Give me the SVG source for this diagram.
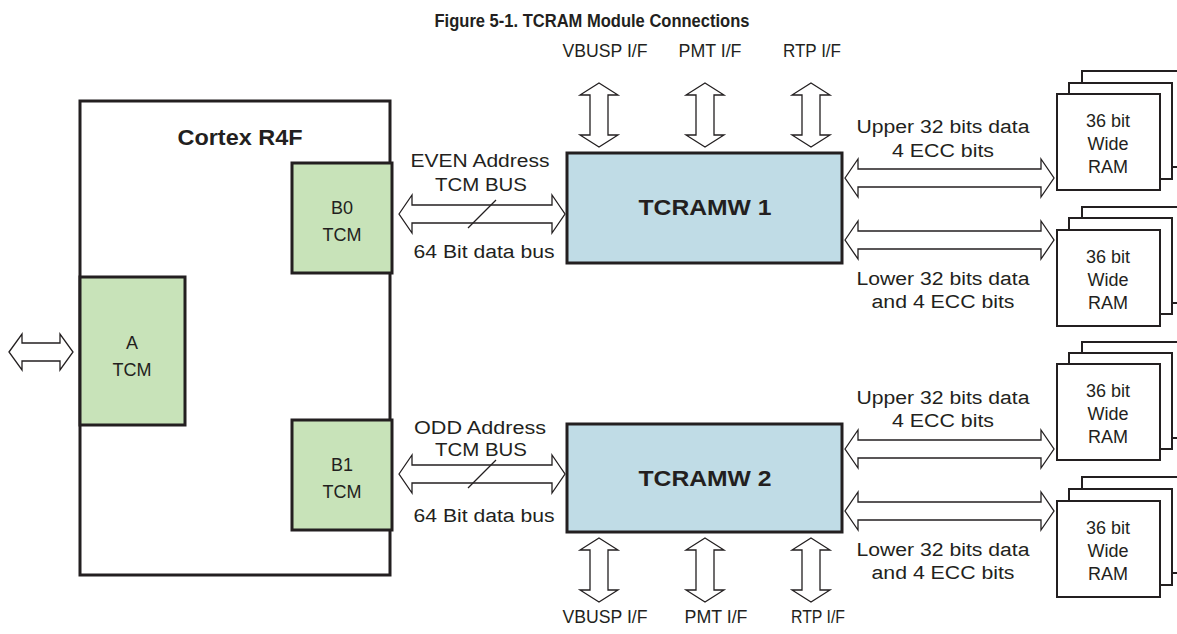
<svg xmlns="http://www.w3.org/2000/svg" width="1177" height="634" viewBox="0 0 1177 634">
<style>
text{font-family:"Liberation Sans",Arial,sans-serif;fill:#231f20;text-anchor:middle}
.t{font-size:18px}
.b{font-weight:bold}
.box{stroke:#231f20;stroke-width:3}
.ram{fill:#fff;stroke:#231f20;stroke-width:2}
.arr{fill:#fff;stroke:#231f20;stroke-width:1.3;stroke-linejoin:miter}
.ln{stroke:#231f20;stroke-width:1.3;fill:none}
</style>
<rect width="1177" height="634" fill="#fff"/>
<text class="b" x="592" y="27" font-size="18" textLength="315" lengthAdjust="spacingAndGlyphs">Figure 5-1. TCRAM Module Connections</text>

<g id="cortex">
<rect class="box" x="80" y="101" width="310" height="474" fill="#fff"/>
<text class="b" x="240" y="145" font-size="22" textLength="125" lengthAdjust="spacingAndGlyphs">Cortex R4F</text>
</g>
<g id="a_tcm">
<rect class="box" x="80" y="277" width="105" height="148" fill="#c8e3b9"/>
<text class="t" x="132" y="349">A</text>
<text class="t" x="132" y="376">TCM</text>
</g>
<g id="b0_tcm">
<rect class="box" x="292" y="163" width="100" height="110" fill="#c8e3b9"/>
<text class="t" x="342" y="214">B0</text>
<text class="t" x="342" y="241">TCM</text>
</g>
<g id="b1_tcm">
<rect class="box" x="292" y="420" width="100" height="110" fill="#c8e3b9"/>
<text class="t" x="342" y="471">B1</text>
<text class="t" x="342" y="498">TCM</text>
</g>
<g id="tcramw1">
<rect class="box" x="567" y="153" width="275" height="110" fill="#c0dce6"/>
<text class="b" x="705" y="215" font-size="22" textLength="133" lengthAdjust="spacingAndGlyphs">TCRAMW 1</text>
</g>
<g id="tcramw2">
<rect class="box" x="567" y="424" width="275" height="108" fill="#c0dce6"/>
<text class="b" x="705" y="486" font-size="22" textLength="133" lengthAdjust="spacingAndGlyphs">TCRAMW 2</text>
</g>

<g id="ram1">
<rect class="ram" x="1082" y="71" width="103" height="96"/>
<rect class="ram" x="1069" y="83" width="103" height="96"/>
<rect class="ram" x="1057" y="94" width="103" height="96"/>
<text class="t" x="1108" y="127" font-size="19">36 bit</text>
<text class="t" x="1108" y="150" font-size="19">Wide</text>
<text class="t" x="1108" y="173" font-size="19">RAM</text>
</g>
<g id="ram2">
<rect class="ram" x="1082" y="207" width="103" height="96"/>
<rect class="ram" x="1069" y="218" width="103" height="96"/>
<rect class="ram" x="1057" y="230" width="103" height="96"/>
<text class="t" x="1108" y="263" font-size="19">36 bit</text>
<text class="t" x="1108" y="286" font-size="19">Wide</text>
<text class="t" x="1108" y="309" font-size="19">RAM</text>
</g>
<g id="ram3">
<rect class="ram" x="1082" y="342" width="103" height="96"/>
<rect class="ram" x="1069" y="353" width="103" height="96"/>
<rect class="ram" x="1057" y="364" width="103" height="96"/>
<text class="t" x="1108" y="397" font-size="19">36 bit</text>
<text class="t" x="1108" y="420" font-size="19">Wide</text>
<text class="t" x="1108" y="443" font-size="19">RAM</text>
</g>
<g id="ram4">
<rect class="ram" x="1082" y="477" width="103" height="96"/>
<rect class="ram" x="1069" y="489" width="103" height="96"/>
<rect class="ram" x="1057" y="501" width="103" height="96"/>
<text class="t" x="1108" y="534" font-size="19">36 bit</text>
<text class="t" x="1108" y="557" font-size="19">Wide</text>
<text class="t" x="1108" y="580" font-size="19">RAM</text>
</g>

<g id="connectors">
<path class="arr" d="M9,352 L22,334 L22,343 L60,343 L60,334 L73,352 L60,370 L60,361 L22,361 L22,370 Z"/>
<path class="arr" d="M399,214 L412,195 L412,205 L552,205 L552,195 L565,214 L552,233 L552,223 L412,223 L412,233 Z"/>
<line class="ln" x1="496" y1="200" x2="468" y2="228"/>
<path class="arr" d="M399,474 L412,455 L412,465 L552,465 L552,455 L565,474 L552,493 L552,483 L412,483 L412,493 Z"/>
<line class="ln" x1="496" y1="460" x2="468" y2="488"/>
<path class="arr" d="M845,178 L858,159 L858,169 L1041,169 L1041,159 L1054,178 L1041,197 L1041,187 L858,187 L858,197 Z"/>
<path class="arr" d="M845,240 L858,221 L858,231 L1041,231 L1041,221 L1054,240 L1041,259 L1041,249 L858,249 L858,259 Z"/>
<path class="arr" d="M845,449 L858,430 L858,440 L1041,440 L1041,430 L1054,449 L1041,468 L1041,458 L858,458 L858,468 Z"/>
<path class="arr" d="M845,511 L858,492 L858,502 L1041,502 L1041,492 L1054,511 L1041,530 L1041,520 L858,520 L858,530 Z"/>
<path class="arr" d="M599,83 L618,95 L608,95 L608,135 L618,135 L599,147 L580,135 L590,135 L590,95 L580,95 Z"/>
<path class="arr" d="M705,83 L724,95 L714,95 L714,135 L724,135 L705,147 L686,135 L696,135 L696,95 L686,95 Z"/>
<path class="arr" d="M811,83 L830,95 L820,95 L820,135 L830,135 L811,147 L792,135 L802,135 L802,95 L792,95 Z"/>
<path class="arr" d="M599,538 L618,550 L608,550 L608,590 L618,590 L599,602 L580,590 L590,590 L590,550 L580,550 Z"/>
<path class="arr" d="M705,538 L724,550 L714,550 L714,590 L724,590 L705,602 L686,590 L696,590 L696,550 L686,550 Z"/>
<path class="arr" d="M811,538 L830,550 L820,550 L820,590 L830,590 L811,602 L792,590 L802,590 L802,550 L792,550 Z"/>
</g>

<g id="labels">
<text class="t" x="605" y="57" textLength="85" lengthAdjust="spacingAndGlyphs">VBUSP I/F</text>
<text class="t" x="710" y="57" textLength="63" lengthAdjust="spacingAndGlyphs">PMT I/F</text>
<text class="t" x="812" y="57" textLength="58" lengthAdjust="spacingAndGlyphs">RTP I/F</text>
<text class="t" x="605" y="623" textLength="85" lengthAdjust="spacingAndGlyphs">VBUSP I/F</text>
<text class="t" x="716" y="623" textLength="63" lengthAdjust="spacingAndGlyphs">PMT I/F</text>
<text class="t" x="818" y="623" textLength="54" lengthAdjust="spacingAndGlyphs">RTP I/F</text>

<text class="t" x="480" y="167" textLength="139" lengthAdjust="spacingAndGlyphs">EVEN Address</text>
<text class="t" x="481" y="191" textLength="92" lengthAdjust="spacingAndGlyphs">TCM BUS</text>
<text class="t" x="484" y="258" textLength="141" lengthAdjust="spacingAndGlyphs">64 Bit data bus</text>
<text class="t" x="480" y="434" textLength="132" lengthAdjust="spacingAndGlyphs">ODD Address</text>
<text class="t" x="481" y="456" textLength="92" lengthAdjust="spacingAndGlyphs">TCM BUS</text>
<text class="t" x="484" y="522" textLength="141" lengthAdjust="spacingAndGlyphs">64 Bit data bus</text>

<text class="t" x="943" y="133" textLength="173" lengthAdjust="spacingAndGlyphs">Upper 32 bits data</text>
<text class="t" x="943" y="157" textLength="102" lengthAdjust="spacingAndGlyphs">4 ECC bits</text>
<text class="t" x="943" y="285" textLength="173" lengthAdjust="spacingAndGlyphs">Lower 32 bits data</text>
<text class="t" x="943" y="308" textLength="143" lengthAdjust="spacingAndGlyphs">and 4 ECC bits</text>
<text class="t" x="943" y="404" textLength="173" lengthAdjust="spacingAndGlyphs">Upper 32 bits data</text>
<text class="t" x="943" y="427" textLength="102" lengthAdjust="spacingAndGlyphs">4 ECC bits</text>
<text class="t" x="943" y="556" textLength="173" lengthAdjust="spacingAndGlyphs">Lower 32 bits data</text>
<text class="t" x="943" y="579" textLength="143" lengthAdjust="spacingAndGlyphs">and 4 ECC bits</text>
</g>
</svg>
